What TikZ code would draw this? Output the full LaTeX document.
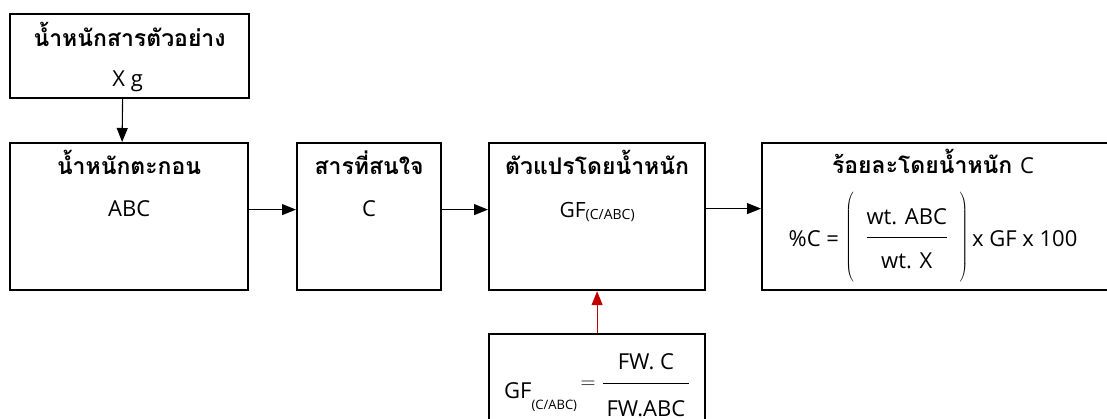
\documentclass[tikz,border=0pt]{standalone}
\usepackage{fontspec}
\setmainfont{Open Sans}
\newfontfamily\thaifont[Script=Thai]{Loma}
\usetikzlibrary{arrows.meta,calc}
\definecolor{arrred}{RGB}{192,0,0}
\begin{document}
\begin{tikzpicture}[x=1pt,y=-1pt,
  box/.style={draw, line width=2.2pt, inner sep=0pt, anchor=north west},
  ttl/.style={font=\thaifont\bfseries\fontsize{23}{26}\selectfont, anchor=base, inner sep=0pt},
  lat/.style={font=\fontsize{22}{26}\selectfont, anchor=base, inner sep=0pt},
  arr/.style={line width=1.1pt, -{Triangle[length=14pt,width=11pt]}},
  frm/.style={font=\fontsize{22}{26}\selectfont, anchor=base, inner sep=0pt}]
\useasboundingbox (0,0) rectangle (1107,419);
% boxes
\node[box, minimum width=239pt, minimum height=84pt] (b1) at (9,13) {};
\node[box, minimum width=238pt, minimum height=147pt] (b2) at (9,142) {};
\node[box, minimum width=144pt, minimum height=147pt] (b3) at (296,142) {};
\node[box, minimum width=216pt, minimum height=147pt] (b4) at (488,142) {};
\node[box, minimum width=351pt, minimum height=147pt] (b5) at (761,142) {};
\node[box, minimum width=216pt, minimum height=110pt] (b6) at (488,333) {};
% texts
\node[ttl] (t1a) at ($(b1.north)+(0,34)$) {น้ำหนักสารตัวอย่าง};
\node[lat] (t1b) at ($(b1.north)+(-2,74)$) {X g};
\node[ttl] (t2a) at ($(b2.north)+(0,33)$) {น้ำหนักตะกอน};
\node[lat] (t2b) at ($(b2.north)+(0,75)$) {ABC};
\node[ttl] (t3a) at ($(b3.north)+(0,33)$) {สารที่สนใจ};
\node[lat] (t3b) at ($(b3.north)+(0,75)$) {C};
\node[ttl] (t4a) at ($(b4.north)+(0,33)$) {ตัวแปรโดยน้ำหนัก};
\node[lat] (t4b) at ($(b4.north)+(0,76)$) {\fontsize{21}{24}\selectfont GF\raisebox{-1.5pt}{\fontsize{14}{14}\selectfont(C/ABC)}};
\node[ttl] (t5a) at ($(b5.north west)+(172,32)$) {ร้อยละโดยน้ำหนัก {\rmfamily\mdseries\fontsize{22}{26}\selectfont C}};
% formulas
\node[frm] (f5) at ($(b5.north west)+(172,100.5)$)
  {\raisebox{-4.5pt}{\%C =}\;$\left(\vrule height 50.5pt depth 39.5pt width 0pt\;\;\displaystyle\frac{\mbox{wt. ABC}\vrule depth 11pt width 0pt}{\vrule height 30pt width 0pt\mbox{wt. X}}\;\;\right)$\raisebox{-4.5pt}{\,x GF x 100}};
\node[frm] (f6) at ($(b6.north)+(0,55.5)$)
  {\raisebox{-9.5pt}{GF\raisebox{-11.5pt}{\fontsize{13}{13}\selectfont(C/ABC)}}\,$=$\;$\displaystyle\frac{\mbox{FW. C}\vrule depth 12pt width 0pt}{\vrule height 32pt width 0pt\mbox{\,FW.ABC\,}}$};
% connectors
\draw[arr] ([xshift=-7pt]b1.south) -- ([xshift=-7pt]b2.north);
\draw[arr] ([yshift=7pt]b2.east) -- ([yshift=7pt]b3.west);
\draw[arr] ([yshift=7pt]b3.east) -- ([yshift=7pt]b4.west);
\draw[arr] ([yshift=8pt]b4.east) -- ([yshift=8pt]b5.west);
\draw[arr, arrred] (b6.north) -- (b6.north |- b4.south);
\end{tikzpicture}
\end{document}
